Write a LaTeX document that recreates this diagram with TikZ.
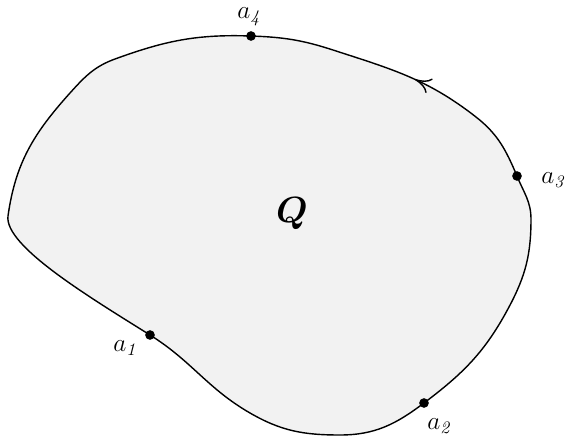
\documentclass[tikz,border=0pt]{standalone}
\usepackage{amsmath,amssymb}
\usetikzlibrary{arrows.meta,decorations.markings}
\definecolor{regionfill}{RGB}{242,242,242}

\tikzset{
  dot/.style={circle, fill=black, inner sep=0pt, minimum size=5.5pt},
  lbl/.style={font=\Large, inner sep=1pt},
  boundary/.style={thick, fill=regionfill},
  orient/.style={thick, postaction={decorate},
    decoration={markings, mark=at position #1 with
      {\arrow{Computer Modern Rightarrow[length=9pt,width=9pt]}}}}
}

\begin{document}
\begin{tikzpicture}[x=0.02cm, y=0.02cm]
  \useasboundingbox (0,0) rectangle (566,441);

  % marked points on the boundary
  \coordinate (a4) at (251,405);
  \coordinate (tl) at (115,382);
  \coordinate (tc) at (70,348);
  \coordinate (lf) at (8,225);
  \coordinate (a1) at (150,106);
  \coordinate (bl) at (250,28);
  \coordinate (bt) at (340,6);
  \coordinate (a2) at (424,38);
  \coordinate (br) at (509,134);
  \coordinate (rt) at (531,222);
  \coordinate (a3) at (517,265);
  \coordinate (tr) at (476,324);
  \coordinate (tp) at (333,391);

  % the region Q
  \draw[boundary] (a4) to[out=178,in=20] (tl) to[out=200,in=48] (tc)
    to[out=228,in=82] (lf) .. controls (4,195) and (91,143) .. (a1)
    to[out=-32,in=150] (bl) to[out=-30,in=180] (bt)
    to[out=0,in=217] (a2) to[out=37,in=242] (br)
    to[out=62,in=270] (rt) to[out=90,in=292] (a3)
    to[out=113,in=-38] (tr) to[out=142,in=-18] (tp)
    to[out=162,in=-2] (a4) -- cycle;
  \path[orient=0.45] (tr) to[out=142,in=-18] (tp);

  \node[font=\huge] (Q) at (292,227) {$\boldsymbol{Q}$};

  \node[dot] (p1) at (a1) {};
  \node[dot] (p2) at (a2) {};
  \node[dot] (p3) at (a3) {};
  \node[dot] (p4) at (a4) {};

  \node[lbl] (l1) at (126,93) {$a_{\mathit{1}}$};
  \node[lbl] (l2) at (440,15) {$a_{\mathit{2}}$};
  \node[lbl] (l3) at (554,261) {$a_{\mathit{3}}$};
  \node[lbl] (l4) at (250,424) {$a_{\mathit{4}}$};
\end{tikzpicture}
\end{document}
